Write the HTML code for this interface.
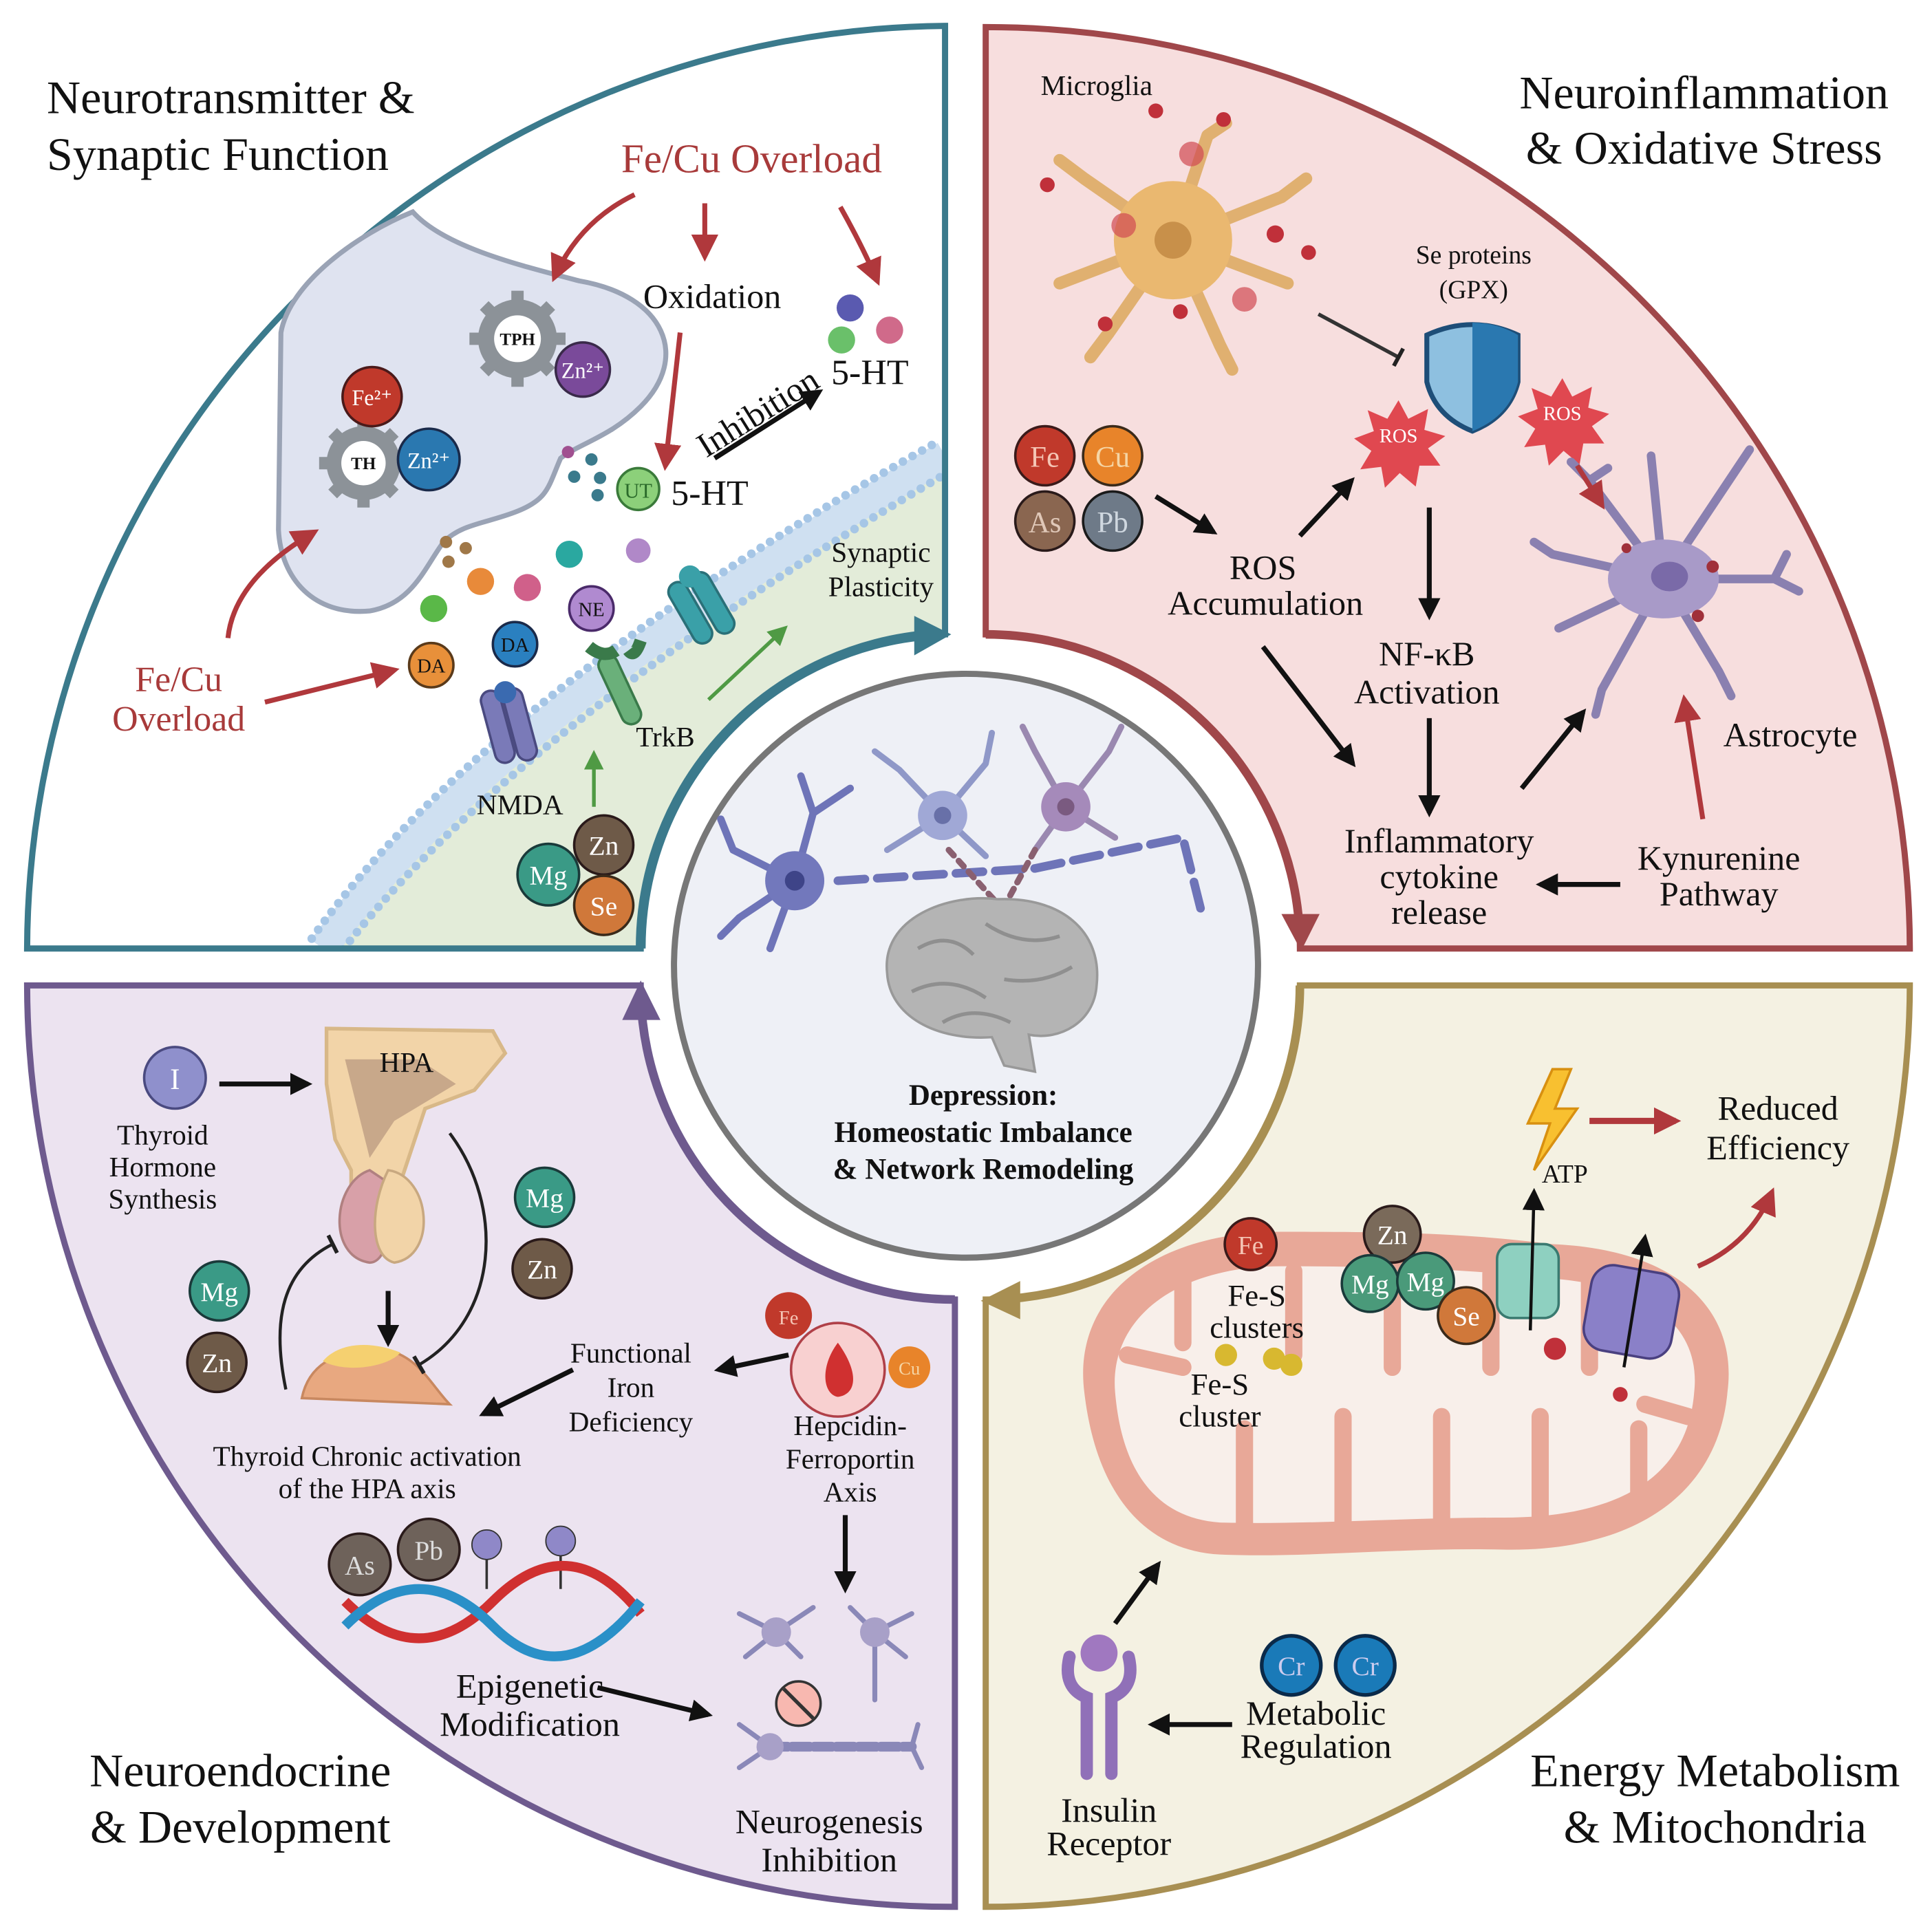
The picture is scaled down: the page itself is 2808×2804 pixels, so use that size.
<!DOCTYPE html>
<html><head><meta charset="utf-8"><style>
html,body{margin:0;padding:0;background:#fff}
svg{display:block}
text{font-family:"Liberation Serif",serif;fill:#111}
.t{font-size:38px}
.m{font-size:28px}
.s{font-size:23px}
.c{text-anchor:middle}
.w{fill:#fff}
</style></head><body>
<svg width="2808" height="2804" viewBox="0 0 1568 1566" preserveAspectRatio="none" xmlns="http://www.w3.org/2000/svg">
<defs>
<marker id="ab" viewBox="0 0 10 10" refX="8" refY="5" markerWidth="18" markerHeight="18" markerUnits="userSpaceOnUse" orient="auto"><path d="M0,0 L10,5 L0,10 z" fill="#111"/></marker>
<marker id="ar" viewBox="0 0 10 10" refX="8" refY="5" markerWidth="22" markerHeight="22" markerUnits="userSpaceOnUse" orient="auto"><path d="M0,0 L10,5 L0,10 z" fill="#b0383c"/></marker>
<marker id="ag" viewBox="0 0 10 10" refX="8" refY="5" markerWidth="16" markerHeight="16" markerUnits="userSpaceOnUse" orient="auto"><path d="M0,0 L10,5 L0,10 z" fill="#4f9a44"/></marker>
<marker id="tb" viewBox="0 0 10 10" refX="5" refY="5" markerWidth="16" markerHeight="16" markerUnits="userSpaceOnUse" orient="auto"><path d="M5,0 L5,10" stroke="#222" stroke-width="2"/></marker>
<clipPath id="tlc"><path d="M22,770 L520,770 A255,255 0 0 1 767,515 L767,21 A752,752 0 0 0 22,770 Z"/></clipPath>
</defs>

<!-- PANELS -->
<path d="M22,770 L520,770 A255,255 0 0 1 767,515 L767,21 A752,752 0 0 0 22,770 Z" fill="#fff"/>
<path d="M262,770 Q400,580 767,370 L767,515 A255,255 0 0 0 520,770 Z" fill="#e3ecd9"/>
<g clip-path="url(#tlc)">
<path d="M262,770 Q400,580 767,370" fill="none" stroke="#cfe0f1" stroke-width="24"/>
<path d="M253,762 Q390,568 762,358" fill="none" stroke="#a6c6e6" stroke-width="7" stroke-linecap="round" stroke-dasharray="0 9"/>
<path d="M273,778 Q412,594 772,382" fill="none" stroke="#a6c6e6" stroke-width="7" stroke-linecap="round" stroke-dasharray="0 9"/>
</g>
<path d="M22,770 L520,770 A255,255 0 0 1 767,515 L767,21 A752,752 0 0 0 22,770 Z" fill="none" stroke="#3b7a8c" stroke-width="5"/>
<path d="M520,770 A255,255 0 0 1 760,515" fill="none" stroke="#3b7a8c" stroke-width="8"/>
<path d="M742,500 L772,515 L742,532 Z" fill="#3b7a8c"/>

<path d="M800,22 L800,515 A255,255 0 0 1 1055,770 L1550,770 A750,750 0 0 0 800,22 Z" fill="#f7dede" stroke="#a0474a" stroke-width="5"/>
<path d="M800,515 A255,255 0 0 1 1055,762" fill="none" stroke="#a0474a" stroke-width="7"/>
<path d="M1040,742 L1056,772 L1071,742 Z" fill="#a0474a"/>

<path d="M22,800 L520,800 A255,255 0 0 0 775,1055 L775,1548 A750,750 0 0 1 22,800 Z" fill="#ece3f0" stroke="#6e5a8e" stroke-width="5"/>
<path d="M775,1055 A255,255 0 0 1 520,808" fill="none" stroke="#6e5a8e" stroke-width="7"/>
<path d="M505,828 L520,796 L536,828 Z" fill="#6e5a8e"/>

<path d="M1055,800 L1550,800 A750,750 0 0 1 800,1548 L800,1055 A255,255 0 0 0 1055,800 Z" fill="#f4f1e2" stroke="#a88f52" stroke-width="5"/>
<path d="M1055,800 A255,255 0 0 1 808,1055" fill="none" stroke="#a88f52" stroke-width="7"/>
<path d="M828,1040 L796,1056 L828,1071 Z" fill="#a88f52"/>

<!-- CENTER -->
<circle cx="784" cy="784" r="237" fill="#eef0f6" stroke="#777" stroke-width="5"/>
<g fill="none" stroke-linecap="round">
<path d="M645,715 L595,690 M645,715 L600,745 M645,715 L625,770 M645,715 L660,660 M595,690 L585,665 M600,745 L585,760 M660,660 L650,630 M660,660 L690,640" stroke="#6e74b8" stroke-width="6"/>
<path d="M765,662 L730,625 M765,662 L800,620 M765,662 L720,690 M765,662 L800,695 M800,620 L805,595 M730,625 L710,610" stroke="#8f98c8" stroke-width="5"/>
<path d="M865,655 L840,610 M865,655 L900,610 M865,655 L905,680 M865,655 L840,690 M900,610 L910,590 M840,610 L830,590" stroke="#9a88b0" stroke-width="5"/>
<path d="M680,715 L840,705 L960,680 L975,740" stroke="#6e74b8" stroke-width="7" stroke-dasharray="22 10"/>
<path d="M770,690 L820,745 M840,690 L810,745" stroke="#8a6070" stroke-width="5" stroke-dasharray="6 6"/>
</g>
<circle cx="645" cy="715" r="24" fill="#7278bc"/><circle cx="645" cy="715" r="8" fill="#3e4488"/>
<circle cx="765" cy="662" r="20" fill="#a0a8d6"/><circle cx="765" cy="662" r="7" fill="#6870a8"/>
<circle cx="865" cy="655" r="20" fill="#a58aba"/><circle cx="865" cy="655" r="7" fill="#7a5a80"/>
<path d="M720,790 C715,745 770,725 810,730 C860,728 895,755 890,800 C888,830 860,845 835,840 L840,870 L815,865 L805,842 C760,845 722,825 720,790 Z" fill="#b4b4b4" stroke="#999" stroke-width="2"/>
<path d="M745,770 Q770,755 790,775 M800,750 Q830,770 860,760 M740,805 Q770,790 800,810 M815,795 Q845,800 870,785 M765,830 Q790,815 820,830" fill="none" stroke="#8f8f8f" stroke-width="3"/>
<text x="798" y="897" class="c" style="font-size:24px;font-weight:bold">Depression:</text>
<text x="798" y="927" class="c" style="font-size:24px;font-weight:bold">Homeostatic Imbalance</text>
<text x="798" y="957" class="c" style="font-size:24px;font-weight:bold">&amp; Network Remodeling</text>

<!-- TL CONTENT -->
<text x="38" y="92" class="t">Neurotransmitter &amp;</text>
<text x="38" y="138" class="t">Synaptic Function</text>
<path d="M228,270 C235,230 290,190 335,172 C360,200 420,215 470,228 C540,240 560,290 520,330 C495,355 470,360 455,372 C445,395 445,405 420,415 C395,425 375,425 360,440 C345,460 335,490 300,496 C255,500 228,470 226,430 Z" fill="#dfe3f0" stroke="#9aa3b5" stroke-width="4"/>
<g fill="#8c9298"><circle cx="420" cy="275" r="32"/></g>
<g stroke="#8c9298" stroke-width="10"><path d="M420,236 V314 M381,275 H459 M393,248 L447,302 M447,248 L393,302"/></g>
<circle cx="420" cy="275" r="19" fill="#fff"/><text x="420" y="280" class="c" style="font-size:14px;font-weight:bold">TPH</text>
<circle cx="473" cy="300" r="22" fill="#7a4a9a" stroke="#3a2a4a" stroke-width="2"/><text x="473" y="307" class="c w" style="font-size:18px">Zn²⁺</text>
<circle cx="295" cy="376" r="30" fill="#8c9298"/>
<g stroke="#8c9298" stroke-width="10"><path d="M295,340 V412 M259,376 H331 M270,351 L320,401 M320,351 L270,401"/></g>
<circle cx="295" cy="376" r="18" fill="#fff"/><text x="295" y="381" class="c" style="font-size:14px;font-weight:bold">TH</text>
<circle cx="302" cy="322" r="24" fill="#c0392b" stroke="#4a1a1a" stroke-width="2"/><text x="302" y="329" class="c w" style="font-size:18px">Fe²⁺</text>
<circle cx="348" cy="373" r="25" fill="#2a78b0" stroke="#1a2a4a" stroke-width="2"/><text x="348" y="380" class="c w" style="font-size:18px">Zn²⁺</text>
<!-- receptors -->
<g fill="#7a7ab8" stroke="#4a4a80" stroke-width="2"><rect x="396" y="560" width="16" height="60" rx="8" transform="rotate(-15 404 590)"/><rect x="414" y="558" width="16" height="60" rx="8" transform="rotate(-15 422 588)"/></g>
<circle cx="410" cy="562" r="9" fill="#3a6ab0"/>
<g fill="#6ab07a" stroke="#3a7a4a" stroke-width="2"><rect x="495" y="530" width="16" height="60" rx="8" transform="rotate(-25 503 560)"/><path d="M478,525 Q490,535 500,528 M520,520 Q515,535 510,528" stroke-width="10"/></g>
<g fill="#3aa0a8" stroke="#2a7078" stroke-width="2"><rect x="552" y="470" width="16" height="55" rx="8" transform="rotate(-30 560 497)"/><rect x="570" y="462" width="16" height="55" rx="8" transform="rotate(-30 578 489)"/></g>
<circle cx="560" cy="468" r="9" fill="#3aa0a8"/>
<!-- dots -->
<circle cx="461" cy="367" r="5" fill="#a05090"/><circle cx="480" cy="373" r="5" fill="#3a7a8c"/><circle cx="466" cy="387" r="5" fill="#3a7a8c"/><circle cx="487" cy="388" r="5" fill="#3a7a8c"/><circle cx="485" cy="402" r="5" fill="#3a7a8c"/>
<circle cx="362" cy="440" r="5" fill="#a07848"/><circle cx="378" cy="445" r="5" fill="#a07848"/><circle cx="364" cy="456" r="5" fill="#a07848"/>
<circle cx="390" cy="472" r="11" fill="#e88a3a"/><circle cx="428" cy="477" r="11" fill="#d0608a"/><circle cx="462" cy="450" r="11" fill="#2aa8a0"/><circle cx="518" cy="447" r="10" fill="#b088c8"/><circle cx="352" cy="494" r="11" fill="#5ab848"/>
<circle cx="690" cy="250" r="11" fill="#5a5ab0"/><circle cx="722" cy="268" r="11" fill="#d06a8a"/><circle cx="683" cy="276" r="11" fill="#6ac06a"/>
<circle cx="518" cy="397" r="17" fill="#8cd07a" stroke="#3a7a3a" stroke-width="2"/><text x="518" y="404" class="c" style="font-size:17px;fill:#2a6a2a">UT</text>
<circle cx="350" cy="540" r="18" fill="#e8903a" stroke="#5a3a1a" stroke-width="2"/><text x="350" y="546" class="c" style="font-size:16px">DA</text>
<circle cx="418" cy="523" r="18" fill="#2a80c0" stroke="#1a2a4a" stroke-width="2"/><text x="418" y="529" class="c" style="font-size:16px">DA</text>
<circle cx="480" cy="494" r="18" fill="#b08ad0" stroke="#4a2a6a" stroke-width="2"/><text x="480" y="500" class="c" style="font-size:16px">NE</text>
<circle cx="445" cy="710" r="25" fill="#3a9a86" stroke="#1a3a3a" stroke-width="2"/><text x="445" y="718" class="c w" style="font-size:22px">Mg</text>
<circle cx="490" cy="686" r="24" fill="#6e5a48" stroke="#2a1a1a" stroke-width="2"/><text x="490" y="694" class="c w" style="font-size:22px">Zn</text>
<circle cx="490" cy="735" r="24" fill="#d0783a" stroke="#3a2a1a" stroke-width="2"/><text x="490" y="743" class="c w" style="font-size:22px">Se</text>
<!-- TL labels/arrows -->
<text x="610" y="140" class="c" style="font-size:33px;fill:#a83a3a">Fe/Cu Overload</text>
<text x="578" y="250" class="c m">Oxidation</text>
<text x="706" y="312" class="c" style="font-size:29px">5-HT</text>
<text x="576" y="410" class="c" style="font-size:29px">5-HT</text>
<text x="612" y="345" class="c m" transform="rotate(-32 612 330)">Inhibition</text>
<text x="715" y="456" class="c s">Synaptic</text><text x="715" y="484" class="c s">Plasticity</text>
<text x="540" y="606" class="c s">TrkB</text><text x="422" y="661" class="c s">NMDA</text>
<text x="145" y="561" class="c" style="font-size:29px;fill:#a83a3a">Fe/Cu</text><text x="145" y="593" class="c" style="font-size:29px;fill:#a83a3a">Overload</text>
<g fill="none" stroke="#b0383c" stroke-width="4">
<path d="M515,158 Q470,180 450,225" marker-end="url(#ar)"/>
<path d="M572,165 L572,208" marker-end="url(#ar)"/>
<path d="M682,168 Q700,200 712,228" marker-end="url(#ar)"/>
<path d="M552,270 L540,378" marker-end="url(#ar)"/>
<path d="M185,518 Q190,470 255,432" marker-end="url(#ar)"/>
<path d="M215,570 L320,544" marker-end="url(#ar)"/>
</g>
<path d="M580,372 L665,318" stroke="#111" stroke-width="4" marker-end="url(#ab)"/>
<g stroke="#4f9a44" stroke-width="3"><path d="M575,568 L637,510" marker-end="url(#ag)"/><path d="M482,655 L482,612" marker-end="url(#ag)"/></g>

<!-- TR CONTENT -->
<text x="1383" y="88" class="t c">Neuroinflammation</text>
<text x="1383" y="133" class="t c">&amp; Oxidative Stress</text>
<text x="890" y="77" class="s c">Microglia</text>
<g stroke="#e0b070" stroke-width="10" stroke-linecap="round" fill="none">
<path d="M952,195 L880,145 M952,195 L860,230 M952,195 L900,270 M952,195 L980,110 M952,195 L1040,160 M952,195 L1045,230 M952,195 L990,280 M880,145 L860,130 M900,270 L885,290 M1040,160 L1060,145 M990,280 L1000,300 M980,110 L995,100"/>
</g>
<circle cx="952" cy="195" r="48" fill="#eab870"/><circle cx="952" cy="195" r="15" fill="#c8904a"/>
<g fill="#c0303a"><circle cx="850" cy="150" r="6"/><circle cx="938" cy="90" r="6"/><circle cx="993" cy="97" r="6"/><circle cx="1062" cy="205" r="6"/><circle cx="1035" cy="190" r="7"/><circle cx="897" cy="263" r="6"/><circle cx="958" cy="253" r="6"/></g>
<g fill="#d04a52" opacity="0.7"><circle cx="912" cy="183" r="10"/><circle cx="967" cy="125" r="10"/><circle cx="1010" cy="243" r="10"/></g>
<path d="M1070,255 L1135,290" stroke="#333" stroke-width="3" marker-end="url(#tb)"/>
<text x="1196" y="214" class="c" style="font-size:21px">Se proteins</text><text x="1196" y="242" class="c" style="font-size:21px">(GPX)</text>
<path d="M1158,272 Q1195,255 1232,272 L1232,310 Q1225,338 1195,350 Q1165,338 1158,310 Z" fill="#8ec0e0" stroke="#1e4e78" stroke-width="4"/>
<path d="M1195,262 Q1215,262 1232,272 L1232,310 Q1225,338 1195,350 Z" fill="#2a78b0"/>
<path d="M1135,325 l8,15 16,-8 -3,17 17,5 -14,10 10,14 -17,0 -3,17 -13,-11 -12,12 -3,-17 -17,2 9,-15 -14,-10 16,-6 -5,-17 16,7z" fill="#e04850"/>
<text x="1135" y="359" class="c w" style="font-size:16px">ROS</text>
<path d="M1268,307 l8,15 16,-8 -3,17 17,5 -14,10 10,14 -17,0 -3,17 -13,-11 -12,12 -3,-17 -17,2 9,-15 -14,-10 16,-6 -5,-17 16,7z" fill="#e04850"/>
<text x="1268" y="341" class="c w" style="font-size:16px">ROS</text>
<circle cx="848" cy="370" r="24" fill="#c0392b" stroke="#3a1a1a" stroke-width="2"/><text x="848" y="379" class="c" style="font-size:24px;fill:#f5c5b5">Fe</text>
<circle cx="903" cy="370" r="24" fill="#e8842a" stroke="#3a2a1a" stroke-width="2"/><text x="903" y="379" class="c" style="font-size:24px;fill:#f5d5a5">Cu</text>
<circle cx="848" cy="423" r="24" fill="#8a6650" stroke="#2a1a1a" stroke-width="2"/><text x="848" y="432" class="c" style="font-size:24px;fill:#e0c8b8">As</text>
<circle cx="903" cy="423" r="24" fill="#6e7a88" stroke="#1a1a1a" stroke-width="2"/><text x="903" y="432" class="c" style="font-size:24px;fill:#d0d8e0">Pb</text>
<text x="1025" y="470" class="c m">ROS</text><text x="1027" y="499" class="c m">Accumulation</text>
<text x="1158" y="540" class="c m">NF-κB</text><text x="1158" y="571" class="c m">Activation</text>
<text x="1168" y="692" class="c m">Inflammatory</text><text x="1168" y="721" class="c m">cytokine</text><text x="1168" y="750" class="c m">release</text>
<text x="1395" y="706" class="c m">Kynurenine</text><text x="1395" y="735" class="c m">Pathway</text>
<text x="1453" y="606" class="c m">Astrocyte</text>
<g stroke="#8a80b0" stroke-width="7" stroke-linecap="round" fill="none">
<path d="M1350,470 L1260,450 M1350,470 L1290,390 M1350,470 L1340,370 M1350,470 L1410,380 M1350,470 L1440,470 M1350,470 L1395,545 M1350,470 L1300,560 M1350,470 L1265,510 M1260,450 L1245,440 M1290,390 L1275,375 M1410,380 L1420,365 M1440,470 L1460,480 M1300,560 L1295,580 M1395,545 L1405,565 M1290,390 L1305,380 M1440,470 L1450,450"/>
</g>
<ellipse cx="1350" cy="470" rx="45" ry="32" fill="#a89ac8"/><ellipse cx="1355" cy="468" rx="15" ry="12" fill="#7a6aa8"/>
<g fill="#a0303a"><circle cx="1320" cy="445" r="4"/><circle cx="1390" cy="460" r="5"/><circle cx="1378" cy="500" r="5"/></g>
<g fill="none" stroke="#111" stroke-width="4">
<path d="M938,403 L985,432" marker-end="url(#ab)"/>
<path d="M1055,435 L1097,390" marker-end="url(#ab)"/>
<path d="M1160,412 L1160,500" marker-end="url(#ab)"/>
<path d="M1160,583 L1160,660" marker-end="url(#ab)"/>
<path d="M1025,525 L1098,620" marker-end="url(#ab)"/>
<path d="M1235,640 L1285,578" marker-end="url(#ab)"/>
<path d="M1315,718 L1250,718" marker-end="url(#ab)"/>
</g>
<g fill="none" stroke="#b0383c" stroke-width="4">
<path d="M1280,378 L1300,410" marker-end="url(#ar)"/>
<path d="M1382,665 L1367,568" marker-end="url(#ar)"/>
</g>

<!-- BL CONTENT -->
<text x="195" y="1450" class="t c">Neuroendocrine</text>
<text x="195" y="1496" class="t c">&amp; Development</text>
<path d="M265,835 L400,837 L410,855 L385,885 L345,900 L325,960 L315,1000 L285,1000 L285,950 L272,925 L265,880 Z" fill="#f2d4a8" stroke="#d8b888" stroke-width="3"/>
<path d="M280,860 L340,860 L370,880 L320,910 L300,940 L290,900 Z" fill="#c8a88a"/>
<text x="330" y="870" class="c s">HPA</text>
<path d="M300,950 C270,960 265,1020 300,1025 C315,1025 320,990 315,960 Z" fill="#d8a0a8" stroke="#b08080" stroke-width="2"/>
<path d="M315,950 C350,955 355,1020 320,1025 C300,1020 300,980 315,950 Z" fill="#f2d4a8" stroke="#c8a880" stroke-width="2"/>
<path d="M245,1135 C250,1110 270,1095 310,1095 C340,1100 350,1125 365,1140 Z" fill="#e8a880" stroke="#c88860" stroke-width="2"/>
<path d="M262,1105 C275,1090 300,1088 325,1098 C315,1110 280,1115 262,1105 Z" fill="#f5d070"/>
<circle cx="142" cy="875" r="25" fill="#8f90cc" stroke="#4a4a80" stroke-width="2"/><text x="142" y="884" class="c w" style="font-size:24px">I</text>
<text x="132" y="929" class="c s">Thyroid</text><text x="132" y="955" class="c s">Hormone</text><text x="132" y="981" class="c s">Synthesis</text>
<circle cx="442" cy="972" r="24" fill="#3a9a86" stroke="#1a3a3a" stroke-width="2"/><text x="442" y="980" class="c w" style="font-size:22px">Mg</text>
<circle cx="440" cy="1030" r="24" fill="#6e5a48" stroke="#2a1a1a" stroke-width="2"/><text x="440" y="1038" class="c w" style="font-size:22px">Zn</text>
<circle cx="178" cy="1048" r="24" fill="#3a9a86" stroke="#1a3a3a" stroke-width="2"/><text x="178" y="1056" class="c w" style="font-size:22px">Mg</text>
<circle cx="176" cy="1106" r="24" fill="#6e5a48" stroke="#2a1a1a" stroke-width="2"/><text x="176" y="1114" class="c w" style="font-size:22px">Zn</text>
<text x="512" y="1106" class="c s">Functional</text><text x="512" y="1134" class="c s">Iron</text><text x="512" y="1162" class="c s">Deficiency</text>
<circle cx="680" cy="1112" r="38" fill="#f8d0d0" stroke="#b04048" stroke-width="2"/>
<path d="M680,1090 C665,1110 668,1132 680,1134 C695,1132 698,1115 680,1090 Z" fill="#d03030"/>
<circle cx="640" cy="1068" r="19" fill="#c0392b"/><text x="640" y="1075" class="c" style="font-size:16px;fill:#f5c5b5">Fe</text>
<circle cx="738" cy="1110" r="17" fill="#e8842a"/><text x="738" y="1116" class="c" style="font-size:15px;fill:#f5d5a5">Cu</text>
<text x="690" y="1165" class="c s">Hepcidin-</text><text x="690" y="1192" class="c s">Ferroportin</text><text x="690" y="1219" class="c s">Axis</text>
<text x="298" y="1190" class="c s">Thyroid Chronic activation</text><text x="298" y="1216" class="c s">of the HPA axis</text>
<circle cx="292" cy="1270" r="25" fill="#6e625a" stroke="#2a1a1a" stroke-width="2"/><text x="292" y="1278" class="c" style="font-size:22px;fill:#ddd">As</text>
<circle cx="348" cy="1258" r="25" fill="#6e625a" stroke="#2a1a1a" stroke-width="2"/><text x="348" y="1266" class="c" style="font-size:22px;fill:#ddd">Pb</text>
<circle cx="395" cy="1254" r="12" fill="#8f88c8" stroke="#333" stroke-width="1"/><circle cx="455" cy="1251" r="12" fill="#8f88c8" stroke="#333" stroke-width="1"/>
<path d="M395,1266 L395,1290 M455,1263 L455,1290" stroke="#333" stroke-width="2"/>
<path d="M280,1300 C320,1340 360,1340 400,1300 S480,1260 520,1310" fill="none" stroke="#d03030" stroke-width="8"/>
<path d="M280,1320 C320,1280 360,1280 400,1320 S480,1350 520,1300" fill="none" stroke="#2a90c8" stroke-width="8"/>
<text x="430" y="1378" class="c m">Epigenetic</text><text x="430" y="1409" class="c m">Modification</text>
<g stroke="#8a88b8" stroke-width="4" fill="none" stroke-linecap="round">
<path d="M630,1325 L600,1310 M630,1325 L660,1305 M630,1325 L605,1345 M630,1325 L650,1345 M710,1325 L690,1305 M710,1325 L740,1310 M710,1325 L735,1345 M710,1380 L710,1330"/>
<path d="M625,1418 L740,1418" stroke-width="8" stroke-dasharray="14 4"/>
<path d="M625,1418 L600,1400 M625,1418 L600,1435 M740,1418 L745,1400 M740,1418 L748,1435"/>
</g>
<circle cx="630" cy="1325" r="12" fill="#a8a0c8"/><circle cx="710" cy="1325" r="12" fill="#a8a0c8"/><circle cx="625" cy="1418" r="11" fill="#a8a0c8"/>
<circle cx="648" cy="1383" r="18" fill="#f8b8b0" stroke="#333" stroke-width="2"/><path d="M636,1371 L660,1395" stroke="#333" stroke-width="3"/>
<text x="673" y="1488" class="c m">Neurogenesis</text><text x="673" y="1519" class="c m">Inhibition</text>
<g fill="none" stroke="#111" stroke-width="4">
<path d="M178,880 L250,880" marker-end="url(#ab)"/>
<path d="M315,1048 L315,1090" marker-end="url(#ab)"/>
<path d="M465,1112 L392,1148" marker-end="url(#ab)"/>
<path d="M640,1100 L583,1112" marker-end="url(#ab)"/>
<path d="M686,1230 L686,1290" marker-end="url(#ab)"/>
<path d="M485,1370 L575,1392" marker-end="url(#ab)"/>
</g>
<g fill="none" stroke="#222" stroke-width="2.5">
<path d="M232,1128 C220,1070 230,1030 270,1010" marker-end="url(#tb)"/>
<path d="M365,920 C410,980 405,1070 340,1108" marker-end="url(#tb)"/>
</g>

<!-- BR CONTENT -->
<text x="1392" y="1450" class="t c">Energy Metabolism</text>
<text x="1392" y="1496" class="t c">&amp; Mitochondria</text>
<text x="1443" y="909" class="c m">Reduced</text><text x="1443" y="941" class="c m">Efficiency</text>
<path d="M1260,868 L1240,912 L1258,912 L1245,950 L1280,900 L1262,900 L1275,868 Z" fill="#f8c030" stroke="#d89010" stroke-width="2"/>
<text x="1270" y="960" class="c" style="font-size:21px">ATP</text>
<path d="M880,1130 C870,1050 940,1000 1040,1000 C1120,1000 1180,1000 1260,1010 C1370,1015 1410,1070 1402,1130 C1395,1210 1330,1260 1220,1258 C1140,1256 1060,1265 990,1262 C920,1258 888,1200 880,1130 Z" fill="#e8a898"/>
<path d="M905,1130 C900,1070 955,1028 1040,1028 C1120,1028 1190,1030 1260,1038 C1350,1045 1380,1085 1375,1130 C1370,1195 1320,1232 1220,1232 C1140,1232 1060,1238 990,1236 C935,1232 910,1190 905,1130 Z" fill="#f8efea"/>
<g stroke="#e8a898" stroke-width="14" stroke-linecap="round" fill="none">
<path d="M960,1032 L960,1090 M1010,1236 L1010,1160 M1050,1032 L1050,1100 M1090,1236 L1090,1150 M1130,1032 L1130,1110 M1170,1236 L1170,1150 M1210,1034 L1210,1110 M1250,1234 L1250,1150 M1290,1040 L1290,1110 M1330,1225 L1330,1160 M915,1100 L960,1110 M1370,1150 L1335,1140"/>
</g>
<circle cx="1015" cy="1010" r="21" fill="#c0392b" stroke="#3a1a1a" stroke-width="2"/><text x="1015" y="1018" class="c" style="font-size:21px;fill:#f5c5b5">Fe</text>
<text x="1020" y="1060" class="c" style="font-size:25px">Fe-S</text><text x="1020" y="1086" class="c" style="font-size:25px">clusters</text>
<circle cx="995" cy="1100" r="9" fill="#d8b830"/><circle cx="1034" cy="1103" r="9" fill="#d8b830"/><circle cx="1048" cy="1108" r="9" fill="#d8b830"/>
<text x="990" y="1132" class="c" style="font-size:25px">Fe-S</text><text x="990" y="1158" class="c" style="font-size:25px">cluster</text>
<circle cx="1130" cy="1002" r="23" fill="#7a6a5a" stroke="#2a1a1a" stroke-width="2"/><text x="1130" y="1010" class="c w" style="font-size:22px">Zn</text>
<circle cx="1112" cy="1042" r="23" fill="#4a9a7a" stroke="#1a3a3a" stroke-width="2"/><text x="1112" y="1050" class="c w" style="font-size:22px">Mg</text>
<circle cx="1157" cy="1040" r="23" fill="#4a9a7a" stroke="#1a3a3a" stroke-width="2"/><text x="1157" y="1048" class="c w" style="font-size:22px">Mg</text>
<circle cx="1190" cy="1068" r="23" fill="#d0783a" stroke="#3a2a1a" stroke-width="2"/><text x="1190" y="1076" class="c w" style="font-size:22px">Se</text>
<rect x="1215" y="1010" width="50" height="60" rx="12" fill="#8ed0c0" stroke="#3a7a70" stroke-width="2"/>
<rect x="1288" y="1030" width="72" height="70" rx="18" fill="#8a80c8" stroke="#4a4080" stroke-width="2" transform="rotate(10 1324 1065)"/>
<path d="M1242,1080 L1245,968" stroke="#111" stroke-width="2.5" marker-end="url(#ab)"/>
<path d="M1318,1110 L1335,1005" stroke="#111" stroke-width="2.5" marker-end="url(#ab)"/>
<circle cx="1262" cy="1095" r="9" fill="#c0303a"/><circle cx="1315" cy="1132" r="6" fill="#c0303a"/>
<path d="M1290,910 L1360,910" stroke="#b0383c" stroke-width="5" marker-end="url(#ar)"/>
<path d="M1378,1028 Q1420,1010 1438,968" fill="none" stroke="#b0383c" stroke-width="4" marker-end="url(#ar)"/>
<circle cx="892" cy="1342" r="15" fill="#a078c0"/>
<g fill="none" stroke="#9070b8" stroke-width="10" stroke-linecap="round">
<path d="M868,1345 Q862,1370 882,1378 L882,1440 M916,1345 Q922,1370 902,1378 L902,1440"/>
</g>
<text x="900" y="1479" class="c m">Insulin</text><text x="900" y="1506" class="c m">Receptor</text>
<circle cx="1048" cy="1352" r="24" fill="#1a7ab8" stroke="#0a2a4a" stroke-width="3"/><text x="1048" y="1360" class="c" style="font-size:22px;fill:#cce">Cr</text>
<circle cx="1108" cy="1352" r="24" fill="#1a7ab8" stroke="#0a2a4a" stroke-width="3"/><text x="1108" y="1360" class="c" style="font-size:22px;fill:#cce">Cr</text>
<text x="1068" y="1400" class="c m">Metabolic</text><text x="1068" y="1427" class="c m">Regulation</text>
<g fill="none" stroke="#111" stroke-width="4">
<path d="M1000,1400 L935,1400" marker-end="url(#ab)"/>
<path d="M905,1318 L940,1270" marker-end="url(#ab)"/>
</g>
</svg>
</body></html>
